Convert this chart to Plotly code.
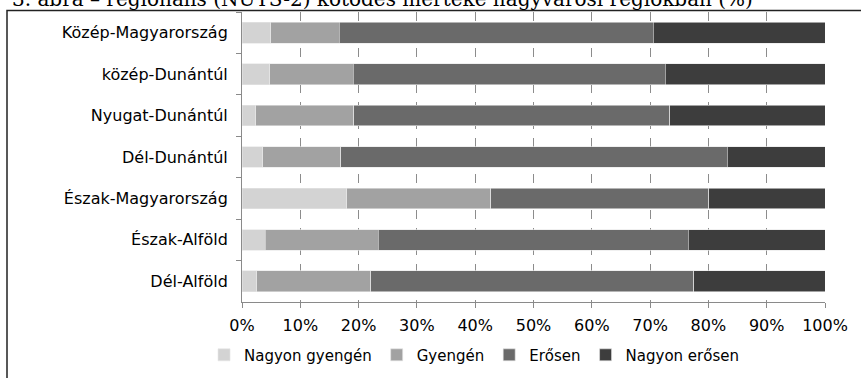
import plotly.graph_objects as go

regions = ["Közép-Magyarország", "közép-Dunántúl", "Nyugat-Dunántúl", "Dél-Dunántúl",
           "Észak-Magyarország", "Észak-Alföld", "Dél-Alföld"]
series_names = ["Nagyon gyengén", "Gyengén", "Erősen", "Nagyon erősen"]
nagyon_gyengen = [4.9, 4.8, 2.4, 3.6, 18.0, 4.0, 2.5]
gyengen = [11.8, 14.3, 16.8, 13.3, 24.7, 19.4, 19.6]
erosen = [53.8, 53.5, 54.2, 66.3, 37.4, 53.1, 55.4]
nagyon_erosen = [29.5, 27.4, 26.6, 16.8, 19.9, 23.5, 22.5]
colors = ["#d3d3d3", "#a2a2a2", "#6a6a6a", "#3d3d3d"]
tick_vals = [0, 0.1, 0.2, 0.3, 0.4, 0.5, 0.6, 0.7, 0.8, 0.9, 1.0]
tick_text = ["0%", "10%", "20%", "30%", "40%", "50%", "60%", "70%", "80%", "90%", "100%"]
title_text = "3. ábra – regionális (NUTS-2) kötődés mértéke nagyvárosi régiókban (%)"

fig = go.Figure()
for name, vals, col in zip(series_names, [nagyon_gyengen, gyengen, erosen, nagyon_erosen], colors):
    fig.add_trace(go.Bar(
        y=regions, x=[v / 100 for v in vals], name=name, orientation="h",
        marker=dict(color=col, line=dict(color="#e6e6e6", width=0.6)),
    ))

font = "DejaVu Sans, Liberation Sans, Arial, sans-serif"
fig.update_layout(
    width=861, height=378,
    margin=dict(l=242, r=36, t=12, b=76, autoexpand=False),
    barmode="stack", bargap=0.5,
    plot_bgcolor="white", paper_bgcolor="white",
    font=dict(family=font, size=16, color="#000000"),
    showlegend=True,
    legend=dict(orientation="h", x=0.398, xanchor="center", y=-0.183, yanchor="middle",
                font=dict(size=15, family=font), itemwidth=30, traceorder="normal",
                tracegroupgap=0, bgcolor="rgba(0,0,0,0)"),
    xaxis=dict(range=[0, 1], tickvals=tick_vals, ticktext=tick_text, automargin=False,
               showgrid=True, gridcolor="#8c8c8c", griddash="dash", gridwidth=1,
               showline=True, linecolor="#8a8a8a", linewidth=1,
               ticks="outside", ticklen=5, tickcolor="#8a8a8a",
               ticklabelstandoff=4, zeroline=False, fixedrange=True),
    yaxis=dict(categoryorder="array", categoryarray=regions, autorange="reversed",
               automargin=False,
               showline=True, linecolor="#8a8a8a", linewidth=1,
               ticks="outside", ticklen=5, tickcolor="#8a8a8a", tickson="boundaries",
               ticklabelstandoff=10, showgrid=False, fixedrange=True),
)

fig.add_shape(type="rect", xref="paper", yref="paper",
              x0=(7 - 242) / 583, x1=(880 - 242) / 583,
              y0=(302 - 400) / 290, y1=(302 - 10.5) / 290,
              line=dict(color="#222222", width=1.5), fillcolor="rgba(0,0,0,0)", layer="above")

fig.add_annotation(text=title_text, xref="paper", yref="paper",
                   x=(10 - 242) / 583, xanchor="left",
                   y=(302 + 1) / 290, yanchor="middle", showarrow=False,
                   font=dict(family="DejaVu Serif, Liberation Serif, serif", size=20, color="#000000"))

fig.write_html("out.html", config={"displayModeBar": False},
               post_script="document.body.style.margin='0';document.body.style.padding='0';")
